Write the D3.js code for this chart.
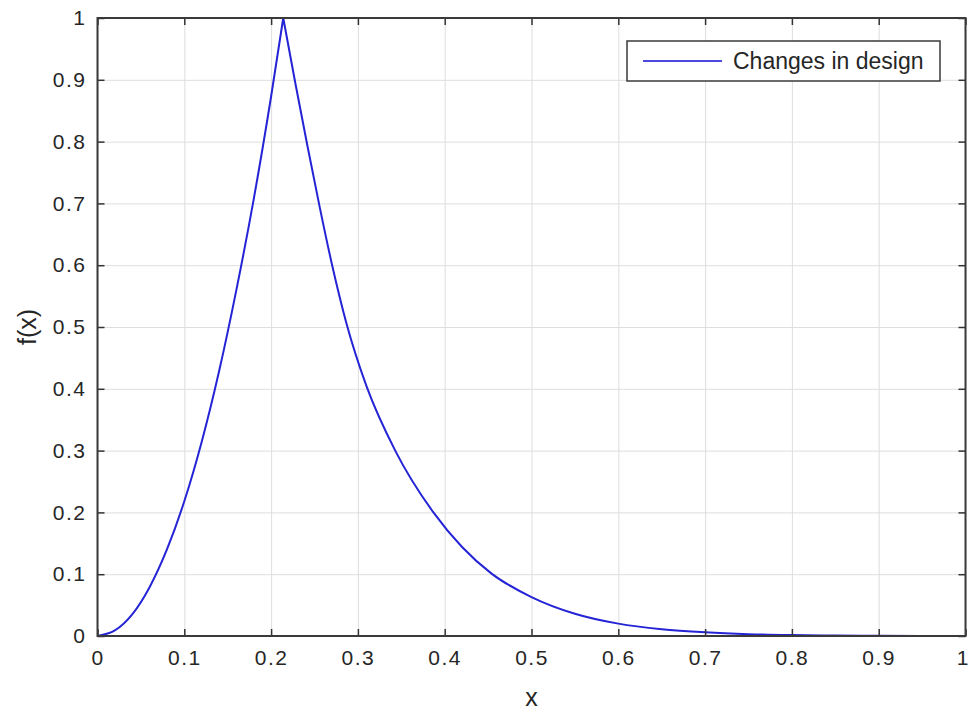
<!DOCTYPE html>
<html>
<head>
<meta charset="utf-8">
<script src="https://cdn.jsdelivr.net/npm/d3@7"></script>
<style>
  body { margin: 0; background: #fff; }
  text { font-family: "Liberation Sans", Arial, sans-serif; fill: #262626; }
</style>
</head>
<body>
<div id="chart"></div>
<script>
// chart data
var xTicks = [0, 0.1, 0.2, 0.3, 0.4, 0.5, 0.6, 0.7, 0.8, 0.9, 1];
var xTickLabels = ["0", "0.1", "0.2", "0.3", "0.4", "0.5", "0.6", "0.7", "0.8", "0.9", "1"];
var yTicks = [0, 0.1, 0.2, 0.3, 0.4, 0.5, 0.6, 0.7, 0.8, 0.9, 1];
var yTickLabels = ["0", "0.1", "0.2", "0.3", "0.4", "0.5", "0.6", "0.7", "0.8", "0.9", "1"];
var seriesName = "Changes in design";
var xLabel = "x";
var yLabel = "f(x)";

var xValues = [0, 0.02, 0.04, 0.06, 0.08, 0.1, 0.12, 0.14, 0.16, 0.18, 0.2, 0.214,
               0.228, 0.242, 0.256, 0.27, 0.287, 0.31, 0.343, 0.387, 0.42, 0.454,
               0.5, 0.55, 0.6, 0.65, 0.7, 0.75, 0.8, 0.85, 0.9, 1];
var fValues = [0, 0.009, 0.035, 0.079, 0.14, 0.218, 0.314, 0.428, 0.56, 0.707, 0.873, 1,
               0.894, 0.792, 0.694, 0.602, 0.505, 0.404, 0.3, 0.2, 0.144, 0.101,
               0.063, 0.036, 0.020, 0.011, 0.006, 0.003, 0.0015, 0.0007, 0.0003, 0.00005];

var svgWidth = 969;
var svgHeight = 715;
var margin = { top: 18, right: 3.5, bottom: 79, left: 97.5 };
var width = svgWidth - margin.left - margin.right;
var height = svgHeight - margin.top - margin.bottom;

var svg = d3.select("#chart")
  .append("svg")
  .attr("width", svgWidth)
  .attr("height", svgHeight);

var chartGroup = svg.append("g")
  .attr("transform", `translate(${margin.left}, ${margin.top})`);

var xScale = d3.scaleLinear().domain([0, 1]).range([0, width]);
var yScale = d3.scaleLinear().domain([0, 1]).range([height, 0]);

// grid lines
chartGroup.append("g")
  .attr("class", "grid")
  .call(d3.axisBottom(xScale).tickValues(xTicks).tickSize(height).tickFormat(""))
  .call(g => g.select(".domain").remove())
  .selectAll("line").attr("stroke", "#dedede").attr("stroke-width", 1);

chartGroup.append("g")
  .attr("class", "grid")
  .call(d3.axisLeft(yScale).tickValues(yTicks).tickSize(-width).tickFormat(""))
  .call(g => g.select(".domain").remove())
  .selectAll("line").attr("stroke", "#dedede").attr("stroke-width", 1);

// the curve: two monotone pieces meeting at the sharp peak
var points = xValues.map((x, i) => [x, fValues[i]]);
var peak = d3.maxIndex(fValues);
var line = d3.line()
  .x(d => xScale(d[0]))
  .y(d => yScale(d[1]))
  .curve(d3.curveMonotoneX);

chartGroup.append("path")
  .attr("d", line(points.slice(0, peak + 1)) + line(points.slice(peak)).replace(/^M[^CL]*/, ""))
  .attr("fill", "none")
  .attr("stroke", "#2424d6")
  .attr("stroke-width", 2)
  .attr("stroke-linejoin", "miter");

// axes with inward ticks
var bottomAxis = d3.axisBottom(xScale).tickValues(xTicks)
  .tickFormat((d, i) => xTickLabels[i]).tickSize(-7).tickPadding(14);
var leftAxis = d3.axisLeft(yScale).tickValues(yTicks)
  .tickFormat((d, i) => yTickLabels[i]).tickSize(-7).tickPadding(11);
var topAxis = d3.axisTop(xScale).tickValues(xTicks).tickFormat("").tickSize(-7);
var rightAxis = d3.axisRight(yScale).tickValues(yTicks).tickFormat("").tickSize(-7);

function styleAxis(g) {
  g.select(".domain").remove();
  g.selectAll("line").attr("stroke", "#333").attr("stroke-width", 1.5);
  g.selectAll("text").attr("font-size", "21px").attr("fill", "#262626")
    .attr("font-family", "Liberation Sans, Arial, sans-serif")
    .attr("letter-spacing", "1.5px");
}

var xAxisGroup = chartGroup.append("g").attr("transform", `translate(0, ${height})`).call(bottomAxis).call(styleAxis);
// last label sits at the window edge, keep it inside
xAxisGroup.selectAll(".tick text").filter((d, i) => i === xTicks.length - 1)
  .attr("text-anchor", "end").attr("dx", "4");
chartGroup.append("g").call(leftAxis).call(styleAxis);
chartGroup.append("g").call(topAxis).call(styleAxis);
chartGroup.append("g").attr("transform", `translate(${width}, 0)`).call(rightAxis).call(styleAxis);

// box
chartGroup.append("rect")
  .attr("width", width)
  .attr("height", height)
  .attr("fill", "none")
  .attr("stroke", "#3a3a3a")
  .attr("stroke-width", 2);

// axis labels
chartGroup.append("text")
  .attr("x", width / 2)
  .attr("y", height + 70)
  .attr("text-anchor", "middle")
  .attr("font-size", "25px")
  .text(xLabel);

chartGroup.append("text")
  .attr("transform", `translate(${36 - margin.left}, ${height / 2}) rotate(-90)`)
  .attr("text-anchor", "middle")
  .attr("font-size", "25px")
  .text(yLabel);

// legend
var legend = chartGroup.append("g")
  .attr("transform", `translate(${627 - margin.left}, ${41 - margin.top})`);

legend.append("rect")
  .attr("width", 313)
  .attr("height", 40)
  .attr("fill", "#fff")
  .attr("stroke", "#3a3a3a")
  .attr("stroke-width", 1.5);

legend.append("line")
  .attr("x1", 16).attr("x2", 95)
  .attr("y1", 20).attr("y2", 20)
  .attr("stroke", "#4a4ae0")
  .attr("stroke-width", 2);

legend.append("text")
  .attr("x", 106)
  .attr("y", 28)
  .attr("font-size", "23px")
  .text(seriesName);
</script>
</body>
</html>
